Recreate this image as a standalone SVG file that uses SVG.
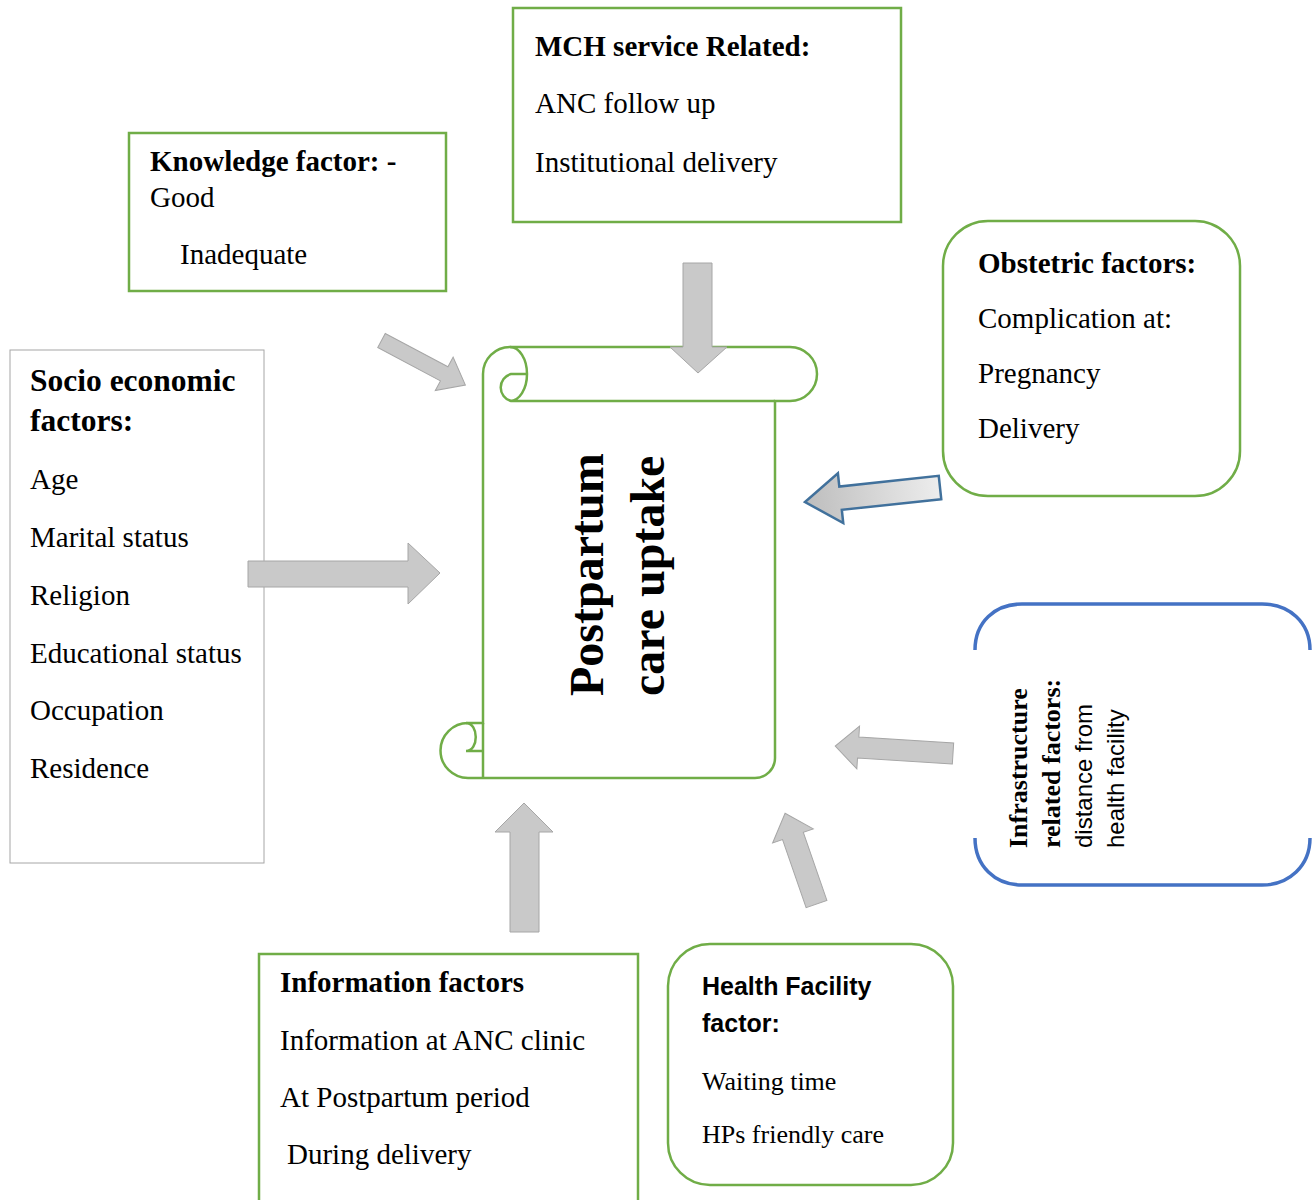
<svg xmlns="http://www.w3.org/2000/svg" width="1312" height="1200" viewBox="0 0 1312 1200">
<style>
.s{font-family:"Liberation Serif","Times New Roman",serif;fill:#000}
.b{font-weight:bold}
.ss{font-family:"Liberation Sans",Arial,sans-serif;fill:#000}
.g{fill:#fff;stroke:#70ad47;stroke-width:2.5}
.arr{fill:#c9c9c9;stroke:#a6a6a6;stroke-width:1}
.f29{font-size:29px}
.f26{font-size:26px}
</style>
<defs>
<linearGradient id="obg" gradientUnits="userSpaceOnUse" x1="136" y1="0" x2="0" y2="0">
<stop offset="0" stop-color="#bdbdbd"/>
<stop offset="1" stop-color="#ededed"/>
</linearGradient>
</defs>
<rect width="1312" height="1200" fill="#fff"/>

<g id="mch">
<rect class="g" x="513" y="8" width="388" height="214"/>
<text class="s b f29" x="535" y="56">MCH service Related:</text>
<text class="s f29" x="535" y="113">ANC follow up</text>
<text class="s f29" x="535" y="172">Institutional delivery</text>
</g>

<g id="knowledge">
<rect class="g" x="129" y="133" width="317" height="158"/>
<text class="s b f29" x="150" y="171">Knowledge factor: -</text>
<text class="s f29" x="150" y="207">Good</text>
<text class="s f29" x="180" y="264">Inadequate</text>
</g>

<g id="socio">
<rect x="10" y="350" width="254" height="513" fill="#fff" stroke="#a6a6a6" stroke-width="1"/>
<text class="s b" font-size="31.5" x="30" y="391">Socio economic</text>
<text class="s b" font-size="31.5" x="30" y="431">factors:</text>
<text class="s f29" x="30" y="489">Age</text>
<text class="s f29" x="30" y="547">Marital status</text>
<text class="s f29" x="30" y="605">Religion</text>
<text class="s f29" x="30" y="663">Educational status</text>
<text class="s f29" x="30" y="720">Occupation</text>
<text class="s f29" x="30" y="778">Residence</text>
</g>

<g id="obstetric">
<rect class="g" x="943" y="221" width="297" height="275" rx="45" ry="45"/>
<text class="s b f29" x="978" y="273">Obstetric factors:</text>
<text class="s f29" x="978" y="328">Complication at:</text>
<text class="s f29" x="978" y="383">Pregnancy</text>
<text class="s f29" x="978" y="438">Delivery</text>
</g>

<g id="infrastructure">
<rect x="975" y="604" width="340" height="281" fill="#fff"/>
<path d="M 975 650 C 975 622 995 604 1022 604 H 1262 C 1289 604 1310 622 1310 650" fill="none" stroke="#4472c4" stroke-width="3.5"/>
<path d="M 975 838 C 975 866 995 885 1022 885 H 1262 C 1289 885 1310 866 1310 838" fill="none" stroke="#4472c4" stroke-width="3.5"/>
<text class="s b" font-size="26" transform="translate(1027,848) rotate(-90)">Infrastructure</text>
<text class="s b" font-size="26" transform="translate(1060,848) rotate(-90)">related factors:</text>
<text class="ss" font-size="24" transform="translate(1092,848) rotate(-90)">distance from</text>
<text class="ss" font-size="24" transform="translate(1124,848) rotate(-90)">health facility</text>
</g>

<g id="information">
<rect class="g" x="259" y="954" width="379" height="260"/>
<text class="s b f29" x="280" y="992">Information factors</text>
<text class="s f29" x="280" y="1050">Information at ANC clinic</text>
<text class="s f29" x="280" y="1107">At Postpartum period</text>
<text class="s f29" x="287" y="1164">During delivery</text>
</g>

<g id="healthfacility">
<rect class="g" x="668" y="944" width="285" height="241" rx="42" ry="42"/>
<text class="ss b" font-size="25" x="702" y="995">Health Facility</text>
<text class="ss b" font-size="25" x="702" y="1032">factor:</text>
<text class="s f26" x="702" y="1090">Waiting time</text>
<text class="s f26" x="702" y="1143">HPs friendly care</text>
</g>

<g id="postpartum">
<path class="g" d="M 483 374 A 27 27 0 0 1 510 347 H 790 A 27 27 0 0 1 790 401 H 775 V 758 A 20 20 0 0 1 755 778 H 468 A 27.5 27.5 0 0 1 468 723 H 483 Z"/>
<path d="M 775 401 H 510 M 510 347 A 17 27 0 0 1 510 401 M 527 374 H 511 A 14 14 0 0 0 511 401 M 483 723 V 778 M 466 723 C 479 723 479 751 466 751 H 483" fill="none" stroke="#70ad47" stroke-width="2.5"/>
<text class="s b" font-size="48" transform="translate(603,696) rotate(-90)">Postpartum</text>
<text class="s b" font-size="48" transform="translate(664,696) rotate(-90)">care uptake</text>
</g>

<g id="connectors">
<polygon class="arr" points="0,-8 71,-8 71,-19 95,0 71,19 71,8 0,8" transform="translate(381.5,340.5) rotate(28)"/>
<polygon class="arr" points="683,263 712,263 712,347 727,347 698,373 670,347 683,347"/>
<polygon class="arr" points="248,561 408,561 408,543 440,573 408,604 408,587 248,587"/>
<polygon points="0,-11.7 100,-11.7 100,-25 135.8,0 100,25 100,11.7 0,11.7" fill="url(#obg)" stroke="#41719c" stroke-width="2.5" stroke-linejoin="miter" transform="translate(940,487.5) rotate(173.87)"/>
<polygon class="arr" points="0,-10.5 95,-10.5 95,-21.5 118,0 95,21.5 95,10.5 0,10.5" transform="translate(953,753.5) rotate(-176.36)"/>
<polygon class="arr" points="0,-11 72,-11 72,-21.5 96,0 72,21.5 72,11 0,11" transform="translate(816.5,904) rotate(-109.1)"/>
<polygon class="arr" points="510,932 539,932 539,832 553,832 524,803 495,832 510,832"/>
</g>
</svg>
